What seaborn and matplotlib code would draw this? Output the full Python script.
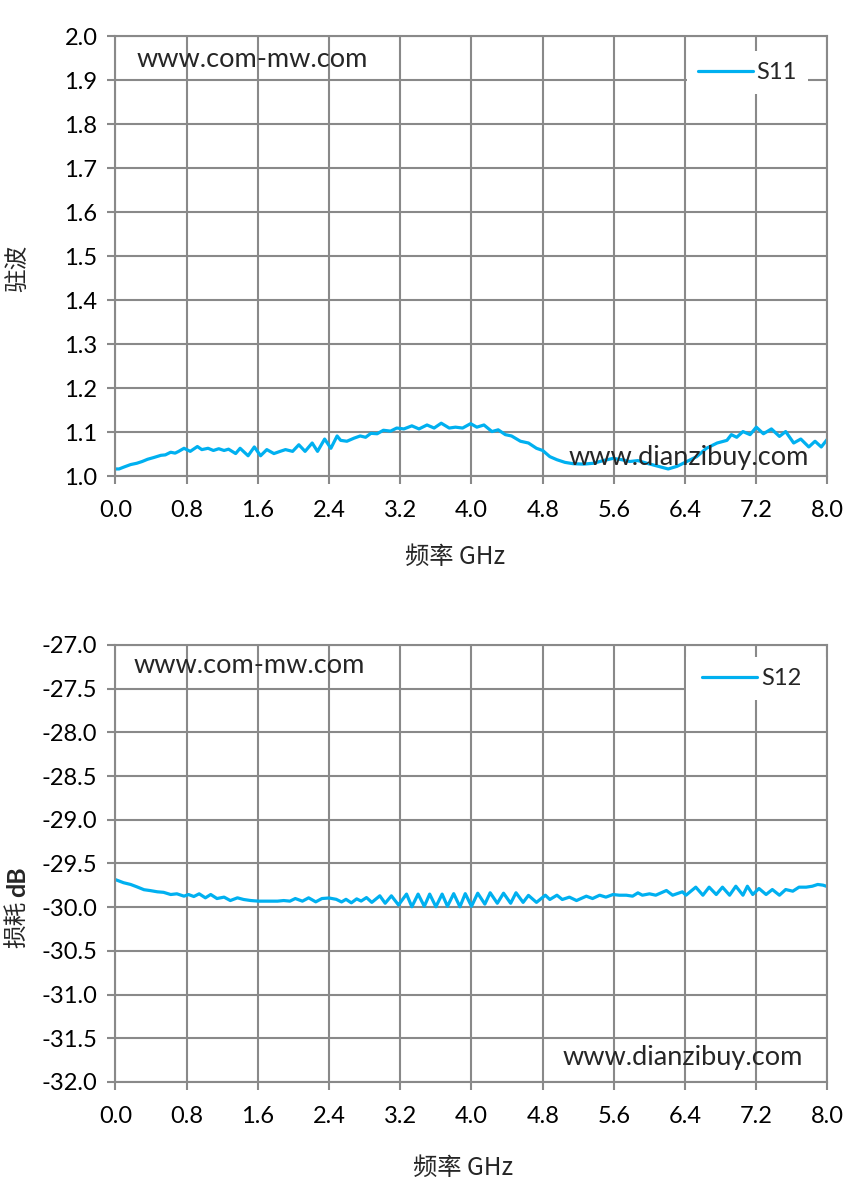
import numpy as np
import pandas as pd
import seaborn as sns
import matplotlib.pyplot as plt
from matplotlib.patches import Rectangle

# S11 驻波 (VSWR)
s11_freq = [0.00, 0.04, 0.09, 0.17, 0.24, 0.30, 0.36, 0.43, 0.51, 0.56,
            0.62, 0.67, 0.71, 0.77, 0.84, 0.92, 0.97, 1.04, 1.10, 1.16,
            1.22, 1.27, 1.35, 1.40, 1.49, 1.56, 1.63, 1.70, 1.78, 1.85,
            1.91, 1.99, 2.06, 2.13, 2.21, 2.27, 2.35, 2.42, 2.49, 2.53,
            2.60, 2.68, 2.75, 2.81, 2.87, 2.94, 3.01, 3.09, 3.16, 3.24,
            3.33, 3.41, 3.50, 3.58, 3.66, 3.75, 3.82, 3.90, 3.99, 4.06,
            4.14, 4.23, 4.30, 4.38, 4.45, 4.55, 4.64, 4.73, 4.80, 4.88,
            4.96, 5.05, 5.14, 5.26, 5.37, 5.48, 5.59, 5.69, 5.78, 5.87,
            5.97, 6.08, 6.21, 6.31, 6.42, 6.53, 6.64, 6.76, 6.87, 6.92,
            6.98, 7.05, 7.13, 7.20, 7.28, 7.37, 7.46, 7.53, 7.62, 7.70,
            7.79, 7.86, 7.93, 8.00]
s11_vals = [1.017, 1.017, 1.021, 1.027, 1.030, 1.034, 1.039, 1.043, 1.048, 1.049,
            1.055, 1.053, 1.057, 1.064, 1.057, 1.068, 1.061, 1.064, 1.059, 1.063,
            1.059, 1.062, 1.052, 1.064, 1.047, 1.067, 1.047, 1.061, 1.052, 1.057,
            1.061, 1.057, 1.072, 1.057, 1.076, 1.057, 1.085, 1.064, 1.092, 1.082,
            1.080, 1.087, 1.092, 1.089, 1.098, 1.097, 1.105, 1.103, 1.110, 1.108,
            1.115, 1.108, 1.117, 1.110, 1.121, 1.110, 1.112, 1.110, 1.120, 1.112,
            1.117, 1.102, 1.106, 1.095, 1.092, 1.080, 1.076, 1.064, 1.059, 1.045,
            1.038, 1.032, 1.029, 1.028, 1.030, 1.036, 1.041, 1.038, 1.034, 1.036,
            1.030, 1.024, 1.017, 1.023, 1.034, 1.045, 1.064, 1.076, 1.082, 1.095,
            1.089, 1.102, 1.095, 1.112, 1.097, 1.108, 1.091, 1.102, 1.076, 1.085,
            1.067, 1.080, 1.067, 1.085]

# S12 损耗 dB
s12_freq = [0.00, 0.09, 0.17, 0.24, 0.32, 0.39, 0.47, 0.54, 0.62, 0.69,
            0.77, 0.82, 0.88, 0.94, 1.01, 1.07, 1.14, 1.22, 1.29, 1.37,
            1.44, 1.52, 1.61, 1.70, 1.82, 1.89, 1.96, 2.02, 2.10, 2.17,
            2.25, 2.32, 2.40, 2.48, 2.54, 2.59, 2.65, 2.71, 2.76, 2.82,
            2.88, 2.97, 3.03, 3.10, 3.18, 3.27, 3.33, 3.40, 3.47, 3.53,
            3.60, 3.67, 3.73, 3.80, 3.87, 3.93, 4.00, 4.07, 4.15, 4.21,
            4.29, 4.36, 4.44, 4.50, 4.58, 4.64, 4.73, 4.83, 4.88, 4.96,
            5.02, 5.10, 5.18, 5.29, 5.36, 5.44, 5.51, 5.59, 5.66, 5.74,
            5.81, 5.87, 5.92, 6.00, 6.07, 6.19, 6.26, 6.37, 6.41, 6.52,
            6.60, 6.67, 6.75, 6.82, 6.90, 6.97, 7.05, 7.10, 7.16, 7.23,
            7.31, 7.38, 7.46, 7.53, 7.61, 7.68, 7.76, 7.83, 7.89, 7.95,
            8.00]
s12_vals = [-29.685, -29.72, -29.74, -29.767, -29.80, -29.81, -29.824, -29.83, -29.855, -29.847,
            -29.874, -29.855, -29.878, -29.847, -29.893, -29.855, -29.901, -29.885, -29.924, -29.893,
            -29.912, -29.924, -29.931, -29.931, -29.931, -29.924, -29.931, -29.901, -29.931, -29.893,
            -29.939, -29.901, -29.895, -29.91, -29.94, -29.91, -29.95, -29.905, -29.93, -29.89,
            -29.945, -29.87, -29.955, -29.87, -29.975, -29.85, -29.995, -29.85, -29.99, -29.85,
            -29.995, -29.85, -29.99, -29.845, -29.995, -29.845, -29.99, -29.84, -29.965, -29.835,
            -29.955, -29.84, -29.955, -29.835, -29.945, -29.865, -29.945, -29.863, -29.912, -29.863,
            -29.912, -29.885, -29.924, -29.874, -29.901, -29.863, -29.885, -29.855, -29.863, -29.863,
            -29.874, -29.836, -29.863, -29.847, -29.863, -29.809, -29.863, -29.824, -29.863, -29.771,
            -29.863, -29.771, -29.855, -29.771, -29.863, -29.76, -29.863, -29.76, -29.855, -29.786,
            -29.855, -29.798, -29.863, -29.798, -29.817, -29.771, -29.771, -29.76, -29.74, -29.748,
            -29.765]

x_ticks = [0.0, 0.8, 1.6, 2.4, 3.2, 4.0, 4.8, 5.6, 6.4, 7.2, 8.0]
x_labels = ['0.0', '0.8', '1.6', '2.4', '3.2', '4.0', '4.8', '5.6', '6.4', '7.2', '8.0']
y1_ticks = [1.0, 1.1, 1.2, 1.3, 1.4, 1.5, 1.6, 1.7, 1.8, 1.9, 2.0]
y1_labels = ['1.0', '1.1', '1.2', '1.3', '1.4', '1.5', '1.6', '1.7', '1.8', '1.9', '2.0']
y2_ticks = [-32.0, -31.5, -31.0, -30.5, -30.0, -29.5, -29.0, -28.5, -28.0, -27.5, -27.0]
y2_labels = ['-32.0', '-31.5', '-31.0', '-30.5', '-30.0', '-29.5', '-29.0', '-28.5', '-28.0', '-27.5', '-27.0']

sns.set_style('white')
plt.rcParams['font.family'] = ['Lato', 'DejaVu Sans']

LINE = '#00B0F0'
GRID = '#898989'
CJK = ['Noto Sans CJK SC', 'DejaVu Sans']
TICK_FS = 17
MARK_FS = 19.5

fig = plt.figure(figsize=(8.6, 11.92), dpi=100)
ax1 = fig.add_axes([0.1343, 0.6003, 0.8279, 0.3691])
ax2 = fig.add_axes([0.1343, 0.0923, 0.8279, 0.3666])


def style_axes(ax, yticks, ylabels):
    ax.set_xlim(0, 8)
    ax.set_ylim(yticks[0], yticks[-1])
    ax.set_xticks(x_ticks)
    ax.set_xticklabels(x_labels)
    ax.set_yticks(yticks)
    ax.set_yticklabels(ylabels)
    ax.set_axisbelow(True)
    ax.grid(True, color=GRID, linewidth=1.5)
    for s in ax.spines.values():
        s.set_color(GRID)
        s.set_linewidth(1.5)
    ax.tick_params(axis='both', length=6, width=1.5, color=GRID,
                   labelsize=TICK_FS, labelcolor='black',
                   bottom=True, left=True)
    ax.tick_params(axis='x', pad=11)
    ax.tick_params(axis='y', pad=7)
    ax.set_xlabel('')
    ax.set_ylabel('')


df1 = pd.DataFrame({'freq': s11_freq, 'val': s11_vals})
sns.lineplot(data=df1, x='freq', y='val', ax=ax1, color=LINE, linewidth=2.3,
             label='S11', solid_joinstyle='round')
style_axes(ax1, y1_ticks, y1_labels)

df2 = pd.DataFrame({'freq': s12_freq, 'val': s12_vals})
sns.lineplot(data=df2, x='freq', y='val', ax=ax2, color=LINE, linewidth=2.3,
             label='S12', solid_joinstyle='round')
style_axes(ax2, y2_ticks, y2_labels)

# the S12 legend area in the original is blanked out up to the right edge
ax2.add_patch(Rectangle((0.801, 0.874), 0.197, 0.099, transform=ax2.transAxes,
                        facecolor='white', edgecolor='none', zorder=1.5))

for ax, xr, yt in [(ax1, 0.972, 0.966), (ax2, 0.978, 0.972)]:
    leg = ax.legend(loc='upper right', bbox_to_anchor=(xr, yt), frameon=True,
                    fancybox=False, framealpha=1, edgecolor='none', facecolor='white',
                    fontsize=TICK_FS, handlelength=2.35, handletextpad=0.15,
                    borderpad=0.45, borderaxespad=0)
    leg.get_frame().set_linewidth(0)

# watermarks
ax1.text(0.030, 0.947, 'www.com-mw.com', transform=ax1.transAxes, fontsize=MARK_FS,
         va='center', ha='left')
ax1.text(0.637, 0.044, 'www.dianzibuy.com', transform=ax1.transAxes, fontsize=MARK_FS,
         va='center', ha='left', zorder=5)
ax2.text(0.025, 0.954, 'www.com-mw.com', transform=ax2.transAxes, fontsize=MARK_FS,
         va='center', ha='left')
ax2.text(0.628, 0.055, 'www.dianzibuy.com', transform=ax2.transAxes, fontsize=MARK_FS,
         va='center', ha='left', zorder=5)

# axis titles
ax1.text(-0.137, 0.474, '驻波', transform=ax1.transAxes, rotation=90, fontsize=17,
         family=CJK, ha='center', va='center')
ax1.text(0.477, -0.183, '频率 GHz', transform=ax1.transAxes, fontsize=17.5,
         family=CJK, ha='center', va='center')
ax2.text(-0.137, 0.36, '损耗', transform=ax2.transAxes, rotation=90, fontsize=17,
         family=CJK, ha='center', va='center')
ax2.text(-0.137, 0.458, 'dB', transform=ax2.transAxes, rotation=90, fontsize=18,
         fontweight='bold', ha='center', va='center')
ax2.text(0.488, -0.197, '频率 GHz', transform=ax2.transAxes, fontsize=17.5,
         family=CJK, ha='center', va='center')

fig.savefig('out.png', dpi=100)
